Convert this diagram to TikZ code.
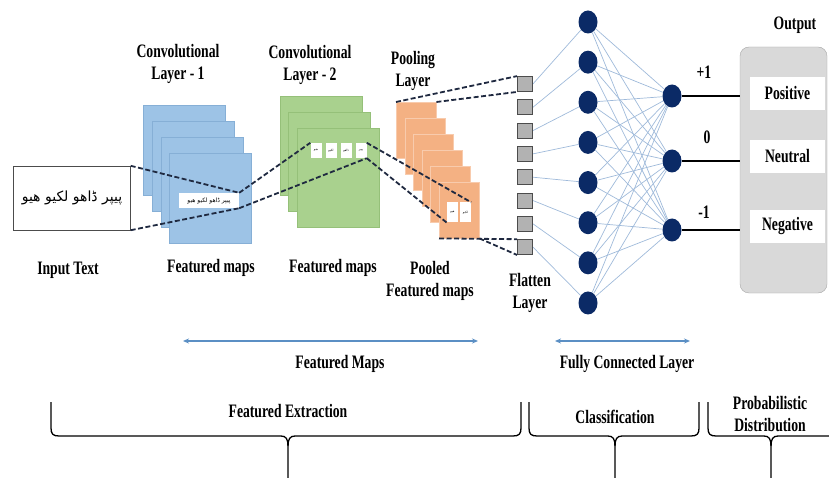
\documentclass[tikz,border=0pt]{standalone}
\usepackage{fontspec}
\setmainfont{Liberation Serif}[FakeStretch=0.72]
\newfontfamily\urdufont[Script=Arabic]{DejaVu Sans}
\TeXXeTstate=1
\usepackage{tikz}
\usetikzlibrary{shapes.geometric,arrows.meta,positioning,calc}
\pgfdeclarelayer{bg}
\pgfsetlayers{bg,main}

\definecolor{mapblue}{HTML}{9DC3E6}
\definecolor{mapblueedge}{HTML}{86AFD6}
\definecolor{mapgreen}{HTML}{A9D18E}
\definecolor{mapgreenedge}{HTML}{95C079}
\definecolor{maporange}{HTML}{F4B183}
\definecolor{maporangeedge}{HTML}{F8CBAD}
\definecolor{neuronblue}{HTML}{0B2A66}
\definecolor{linkblue}{HTML}{9FBADA}
\definecolor{spanblue}{HTML}{5B8FC4}
\definecolor{dashdark}{HTML}{1F2940}

\tikzset{
  lbl/.style={font=\bfseries\fontsize{19}{22}\selectfont, align=center},
  mapone/.style={anchor=north west, inner sep=0pt, minimum width=82pt, minimum height=90pt, fill=mapblue, draw=mapblueedge},
  maptwo/.style={anchor=north west, inner sep=0pt, minimum width=82pt, minimum height=99pt, fill=mapgreen, draw=mapgreenedge},
  mappool/.style={anchor=north west, inner sep=0pt, minimum width=40pt, minimum height=56pt, fill=maporange, draw=maporangeedge},
  wordbox/.style={fill=white, inner sep=0pt},
  dashln/.style={draw=dashdark, line width=1.8pt, dash pattern=on 5pt off 2.5pt},
  flat/.style={draw=black!70, fill=gray!60, line width=0.8pt, minimum size=15pt, inner sep=0pt},
  neuron/.style={ellipse, fill=neuronblue, minimum width=19pt, minimum height=23pt, inner sep=0pt},
  link/.style={draw=linkblue, line width=0.7pt},
  spanarrow/.style={draw=spanblue, line width=1.2pt, {Stealth[length=6pt,width=5pt]}-{Stealth[length=6pt,width=5pt]}},
  bracel/.style={draw=black, line width=1.3pt}
}

\begin{document}
\begin{tikzpicture}[x=1pt,y=-1pt]
  \useasboundingbox (0,0) rectangle (829,478);

  % input
  \node [draw=black!70, minimum width=117pt, minimum height=64pt, inner sep=0pt] (input) at (72,198)
        {\urdufont\fontsize{14}{16}\selectfont\beginR پیپر ڈاهو لکیو هیو\endR};
  \node [lbl] (inputlbl) at (68,270) {Input Text};

  % convolutional layer 1
  \node [lbl] (c1lbl) at (178,63.5) {Convolutional\\Layer - 1};
  \foreach \i/\x/\y in {1/143/105, 2/152/121, 3/161/137, 4/169/153}
    \node [mapone] (c1m\i) at (\x,\y) {};
  \node [wordbox, minimum width=60pt, minimum height=15pt] (c1t) at (209,200.5)
        {\urdufont\fontsize{6}{7}\selectfont\beginR پیپر ڈاهو لکیو هیو\endR};
  \node [lbl] (c1fm) at (211,268) {Featured maps};

  % convolutional layer 2
  \node [lbl] (c2lbl) at (310,65) {Convolutional\\Layer - 2};
  \foreach \i/\x/\y in {1/280/96, 2/288/112, 3/297/128}
    \node [maptwo] (c2m\i) at (\x,\y) {};
  \foreach \i/\x/\w in {1/316/هیو, 2/331/لکیو, 3/346/ڈاهو, 4/361/پیپر}
    \node [wordbox, minimum width=11pt, minimum height=15pt] (c2w\i) at (\x,150.5)
          {\urdufont\fontsize{3}{4}\selectfont\beginR \w\endR};
  \node [lbl] (c2fm) at (333,268) {Featured maps};

  % pooling layer
  \node [lbl] (plbl) at (413,71) {Pooling\\Layer};
  \foreach \i/\x/\y in {1/396/102, 2/405/118, 3/413/134, 4/422/150, 5/430/166, 6/439/182}
    \node [mappool] (pm\i) at (\x,\y) {};
  \foreach \i/\x/\w in {1/452.5/هیو, 2/465.5/لکیو}
    \node [wordbox, minimum width=11pt, minimum height=20pt] (pw\i) at (\x,212.5)
          {\urdufont\fontsize{3}{4}\selectfont\beginR \w\endR};
  \node [lbl] (pfm) at (430,281) {Pooled\\Featured maps};

  % dashed projections
  \draw [dashln] (input.north east) -- (c1t.north east);
  \draw [dashln] (input.south east) -- (c1t.south east);
  \draw [dashln] (c1t.north east) -- (c2w1.north west);
  \draw [dashln] (c1t.south east) -- (c2w4.south east);
  \draw [dashln] (c2w4.north east) -- (pw2.north east);
  \draw [dashln] (c2w4.south east) -- (pw1.south west);

  % flatten layer
  \foreach \i in {1,...,8}
    \node [flat] (f\i) at (525,{60.7+23.3*\i}) {};
  \node [lbl] (flbl) at (530,292.5) {Flatten\\Layer};
  \draw [dashln] (pm1.north west) -- (f1.north west);
  \draw [dashln] (pm1.north east) -- (f1.south west);
  \draw [dashln] (pm6.south west) -- (f8.north west);
  \draw [dashln] (pm6.south east) -- (f8.south west);

  % fully connected
  \foreach \i in {1,...,8}
    \node [neuron] (h\i) at (588,{22+40.14*(\i-1)}) {};
  \node [neuron] (o1) at (672,96) {};
  \node [neuron] (o2) at (672,161) {};
  \node [neuron] (o3) at (672,230) {};
  \begin{pgfonlayer}{bg}
    \foreach \i in {1,...,8} {
      \draw [link] (f\i.east) -- (h\i);
      \foreach \j in {1,2,3}
        \draw [link] (h\i) -- (o\j);
    }
  \end{pgfonlayer}

  % output
  \node [lbl] (outlbl) at (795,25) {Output};
  \node [draw=gray!70, fill=gray!30, rounded corners=9pt, minimum width=87pt, minimum height=246pt] (outbox) at (783.5,170) {};
  \node [lbl, wordbox, minimum width=75pt, minimum height=33pt] (pos) at (787.5,93.5) {Positive};
  \node [lbl, wordbox, minimum width=75pt, minimum height=33pt] (neu) at (787.5,156.5) {Neutral};
  \node [lbl, wordbox, minimum width=75pt, minimum height=33pt] (neg) at (787.5,226.5) {Negative};
  \draw [line width=1.5pt] (o1) -- (outbox.west |- o1);
  \draw [line width=1.5pt] (o2) -- (outbox.west |- o2);
  \draw [line width=1.5pt] (o3) -- (outbox.west |- o3);
  \node [lbl] (plus) at (704,72) {+1};
  \node [lbl] (zero) at (707,137) {0};
  \node [lbl] (minus) at (704,212) {-1};

  % spans
  \coordinate (fmL) at (183,341);
  \coordinate (fmR) at (478,341);
  \coordinate (fcL) at (555,341);
  \coordinate (fcR) at (690,341);
  \draw [spanarrow] (fmL) -- (fmR);
  \draw [spanarrow] (fcL) -- (fcR);
  \node [lbl] (fmlbl) at (340,364) {Featured Maps};
  \node [lbl] (fclbl) at (627,364) {Fully Connected Layer};

  % braces
  \foreach \l/\t/\r in {51/288/521, 529/615/699, 708/771/840} {
    \draw [bracel] (\l,402) -- (\l,428) .. controls (\l,434) and ({\l+2},436) .. ({\l+8},436)
      -- ({\t-7},436) .. controls ({\t-2},436) and (\t,439) .. (\t,446) -- (\t,478);
    \draw [bracel] (\r,402) -- (\r,428) .. controls (\r,434) and ({\r-2},436) .. ({\r-8},436)
      -- ({\t+7},436) .. controls ({\t+2},436) and (\t,439) .. (\t,446);
  }
  \node [lbl] (felbl) at (288,411) {Featured Extraction};
  \node [lbl] (cllbl) at (615,417) {Classification};
  \node [lbl] (pdlbl) at (770,414) {Probabilistic\\Distribution};
\end{tikzpicture}
\end{document}
